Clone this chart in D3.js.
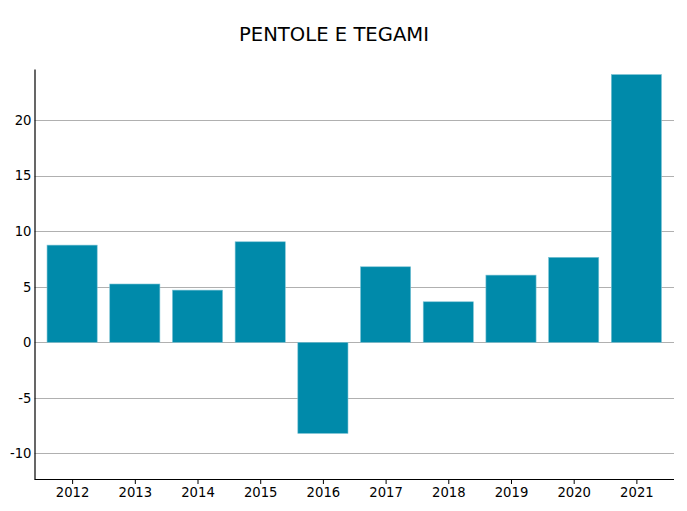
<!DOCTYPE html>
<html><head><meta charset="utf-8">
<script src="https://cdn.jsdelivr.net/npm/d3@7"></script>
<style>body{margin:0;background:#fff;} svg{display:block;font-family:"DejaVu Sans",sans-serif;}</style>
</head><body>
<script>
const title = "PENTOLE E TEGAMI";
const years = ["2012","2013","2014","2015","2016","2017","2018","2019","2020","2021"];
const values = [8.75, 5.25, 4.7, 9.05, -8.2, 6.8, 3.65, 6.05, 7.65, 24.1];
const yTicks = [-10, -5, 0, 5, 10, 15, 20];

(function () {
const W = 687, H = 511;
const mLeft = 34.5, mRight = 674, mTop = 69, mBottom = 479;
const svg = d3.select("body").append("svg").attr("width", W).attr("height", H);

const x = d3.scaleLinear().domain([-0.6, 9.6]).range([mLeft, mRight]);
const y = d3.scaleLinear().domain([-12.3, 24.6]).range([mBottom, mTop]);
const bw = 0.8;

// grid
svg.append("g").selectAll("line").data(yTicks).join("line")
  .attr("x1", mLeft).attr("x2", mRight)
  .attr("y1", d => Math.round(y(d)) + 0.5).attr("y2", d => Math.round(y(d)) + 0.5)
  .attr("stroke", "#b0b0b0").attr("stroke-width", 1);

// bars
svg.append("g").selectAll("rect").data(values).join("rect")
  .attr("x", (d, i) => x(i - bw / 2))
  .attr("width", (d, i) => x(i + bw / 2) - x(i - bw / 2))
  .attr("y", d => y(Math.max(0, d)))
  .attr("height", d => Math.abs(y(d) - y(0)))
  .attr("fill", "#008aaa")
  .attr("stroke", "#7cc3d5").attr("stroke-width", 0.6);

// y axis
const yAxis = d3.axisLeft(y).tickValues(yTicks).tickSize(0).tickPadding(3).tickFormat(d => String(d));
const gy = svg.append("g").attr("transform", `translate(${mLeft},0)`).call(yAxis);
gy.select(".domain").attr("stroke", "#000").attr("stroke-width", 1.2);
gy.selectAll("text").attr("font-size", 13.2).attr("fill", "#000").attr("font-family", "DejaVu Sans");

// x axis
const xAxis = d3.axisBottom(x).tickValues(d3.range(years.length)).tickSize(5).tickPadding(4).tickFormat(i => years[i]);
const gx = svg.append("g").attr("transform", `translate(0,${mBottom})`).call(xAxis);
gx.select(".domain").attr("d", `M${mLeft},0.5H${mRight}`).attr("stroke", "#000").attr("stroke-width", 1.2);
gx.selectAll(".tick line").attr("stroke", "#000");
gx.selectAll("text").attr("font-size", 13.2).attr("fill", "#000").attr("font-family", "DejaVu Sans");

// title
svg.append("text").attr("x", 334).attr("y", 41).attr("text-anchor", "middle")
  .attr("font-size", 19.6).attr("fill", "#000").text(title);
})();
</script>
</body></html>
